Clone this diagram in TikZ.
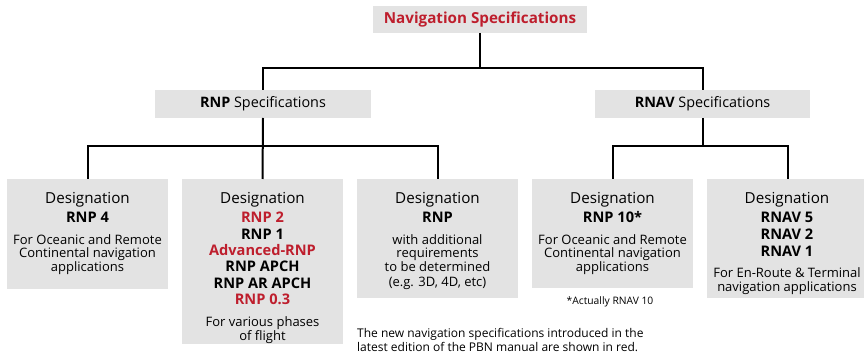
\documentclass[tikz,border=0pt]{standalone}
\usepackage{fontspec}
\setmainfont{Open Sans}
\definecolor{boxgray}{RGB}{227,227,227}
\definecolor{specred}{RGB}{190,30,45}
\begin{document}
\begin{tikzpicture}[x=1pt,y=-1pt,
  box/.style={fill=boxgray, inner sep=0pt, outer sep=0pt},
  conn/.style={line width=2pt, black},
  des/.style={font=\fontsize{15.2}{18}\selectfont, anchor=base, inner sep=0pt},
  code/.style={font=\fontsize{14.6}{16}\selectfont\bfseries, anchor=base, inner sep=0pt},
  newcode/.style={code, text=specred},
  desc/.style={font=\fontsize{13}{15}\selectfont, anchor=base, inner sep=0pt},
  foot/.style={font=\fontsize{10.3}{12}\selectfont, anchor=base, inner sep=0pt},
  remark/.style={font=\fontsize{12}{14}\selectfont, anchor=base west, inner sep=0pt},
]
\useasboundingbox (0,0) rectangle (864,355);
\begin{scope}
\clip (0,0) rectangle (864,355);
% top level boxes
\node[box, minimum width=214pt, minimum height=27pt, text=specred,
      font=\fontsize{15.2}{16}\selectfont\bfseries] (top) at (480,19.5) {Navigation Specifications};
\node[box, minimum width=216pt, minimum height=28pt,
      font=\fontsize{14.4}{16}\selectfont] (rnp) at (263,104) {\textbf{RNP} Specifications};
\node[box, minimum width=215pt, minimum height=28pt,
      font=\fontsize{14.4}{16}\selectfont] (rnav) at (702.5,104) {\textbf{RNAV} Specifications};
% designation boxes
\node[box, minimum width=161pt, minimum height=110pt] (b1) at (87.5,234) {};
\node[box, minimum width=161pt, minimum height=165pt] (b2) at (262.5,261.5) {};
\node[box, minimum width=161pt, minimum height=119pt] (b3) at (437.5,238.5) {};
\node[box, minimum width=161pt, minimum height=109pt] (b4) at (612.5,233.5) {};
\node[box, minimum width=162pt, minimum height=119pt] (b5) at (788,238.5) {};
\end{scope}
% junctions
\coordinate (j0) at (480,68);
\coordinate (j1) at (262.5,146);
\coordinate (j2) at (702.5,146);
% connectors
\draw[conn] (top.south) -- (j0);
\draw[conn] (rnp.north) |- (j0) -| (rnav.north);
\draw[conn] (rnp.south) -- (b2.north);
\draw[conn] (b1.north) |- (j1) -| (b3.north);
\draw[conn] (rnav.south) -- (j2);
\draw[conn] (b4.north) |- (j2) -| (b5.north);
% box 1
\node[des] (b1d) at (87.5,203.5) {Designation};
\node[code] (b1c1) at (87.5,223) {RNP 4};
\node[desc] (b1t1) at (87.5,244) {For Oceanic and Remote};
\node[desc] (b1t2) at (87.5,258) {Continental navigation};
\node[desc] (b1t3) at (87.5,272) {applications};
% box 2
\node[des] (b2d) at (262.5,203.5) {Designation};
\node[newcode] (b2c1) at (262.5,223) {RNP 2};
\node[code] (b2c2) at (262.5,239.3) {RNP 1};
\node[newcode] (b2c3) at (262.5,255.6) {Advanced-RNP};
\node[code] (b2c4) at (262.5,272) {RNP APCH};
\node[code] (b2c5) at (262.5,288.2) {RNP AR APCH};
\node[newcode] (b2c6) at (262.5,304.5) {RNP 0.3};
\node[desc] (b2t1) at (262.5,326) {For various phases};
\node[desc] (b2t2) at (262.5,340) {of flight};
% box 3
\node[des] (b3d) at (437.5,203.5) {Designation};
\node[code] (b3c1) at (437.5,223) {RNP};
\node[desc] (b3t1) at (437.5,244) {with additional};
\node[desc] (b3t2) at (437.5,258) {requirements};
\node[desc] (b3t3) at (437.5,272) {to be determined};
\node[desc] (b3t4) at (437.5,286) {(e.g. 3D, 4D, etc)};
% box 4
\node[des] (b4d) at (612.5,203.5) {Designation};
\node[code] (b4c1) at (612.5,223) {RNP 10*};
\node[desc] (b4t1) at (612.5,244) {For Oceanic and Remote};
\node[desc] (b4t2) at (612.5,258) {Continental navigation};
\node[desc] (b4t3) at (612.5,272) {applications};
\node[foot] (b4f) at (610,304) {*Actually RNAV 10};
% box 5
\node[des] (b5d) at (787,203.5) {Designation};
\node[code] (b5c1) at (787,223) {RNAV 5};
\node[code] (b5c2) at (787,239.5) {RNAV 2};
\node[code] (b5c3) at (787,256) {RNAV 1};
\node[desc] (b5t1) at (787,277) {For En-Route \& Terminal};
\node[desc] (b5t2) at (787,291) {navigation applications};
% remark
\node[remark] (r1) at (357,337) {The new navigation specifications introduced in the};
\node[remark] (r2) at (357,351) {latest edition of the PBN manual are shown in red.};
\end{tikzpicture}
\end{document}
